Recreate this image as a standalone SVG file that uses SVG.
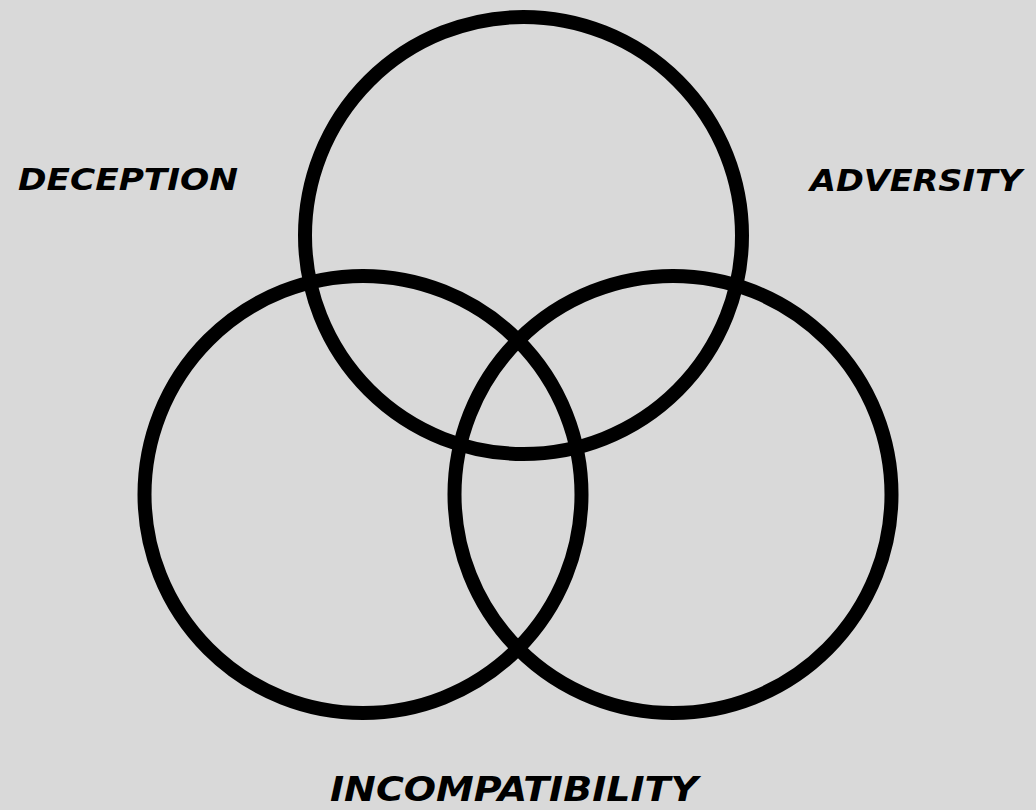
<svg xmlns="http://www.w3.org/2000/svg" width="1036" height="810" viewBox="0 0 1036 810">
<style>
.c{fill:none;stroke:#000;stroke-width:14}
.t{font-family:"DejaVu Sans Condensed","DejaVu Sans",sans-serif;font-weight:bold;font-style:oblique;font-size:31px;fill:#000}
.b{font-size:34px}
</style>
<rect width="1036" height="810" fill="#d9d9d9"/>
<g id="circle-top"><circle class="c" cx="523.5" cy="235.5" r="218.5"/></g>
<g id="circle-left"><circle class="c" cx="363" cy="494.5" r="218.5"/></g>
<g id="circle-right"><circle class="c" cx="673" cy="494.5" r="218.5"/></g>
<g id="label-deception"><text class="t" x="18" y="190" textLength="220" lengthAdjust="spacingAndGlyphs">DECEPTION</text></g>
<g id="label-adversity"><text class="t" x="810" y="191" textLength="212" lengthAdjust="spacingAndGlyphs">ADVERSITY</text></g>
<g id="label-incompatibility"><text class="t b" x="330" y="801" textLength="368" lengthAdjust="spacingAndGlyphs">INCOMPATIBILITY</text></g>
</svg>
